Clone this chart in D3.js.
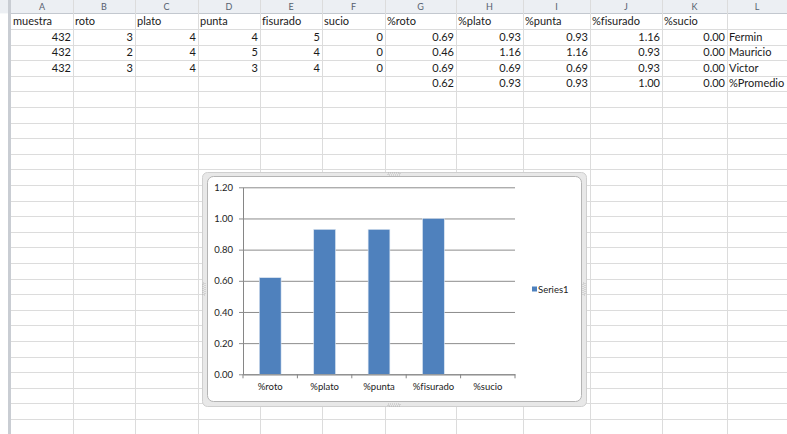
<!DOCTYPE html>
<meta charset="utf-8">
<script src="https://d3js.org/d3.v7.min.js"></script>
<style>
  body { margin: 0; background: #fff; }
  text {
    font-family: Lato, "Open Sans", sans-serif;
    font-variant-ligatures: none;
    font-feature-settings: "liga" 0, "clig" 0, "dlig" 0;
  }
</style>
<div id="sheet"></div>
<script>

// spreadsheet content
var columnLetters = ["A", "B", "C", "D", "E", "F", "G", "H", "I", "J", "K", "L"];
var headerRow = ["muestra", "roto", "plato", "punta", "fisurado", "sucio",
                 "%roto", "%plato", "%punta", "%fisurado", "%sucio", ""];
var rowFermin   = ["432", "3", "4", "4", "5", "0", "0.69", "0.93", "0.93", "1.16", "0.00", "Fermin"];
var rowMauricio = ["432", "2", "4", "5", "4", "0", "0.46", "1.16", "1.16", "0.93", "0.00", "Mauricio"];
var rowVictor   = ["432", "3", "4", "3", "4", "0", "0.69", "0.69", "0.69", "0.93", "0.00", "Victor"];
var rowPromedio = ["", "", "", "", "", "", "0.62", "0.93", "0.93", "1.00", "0.00", "%Promedio"];

// chart content
var categories = ["%roto", "%plato", "%punta", "%fisurado", "%sucio"];
var values = [0.62, 0.93, 0.93, 1.00, 0.00];
var yTicks = [0, 0.2, 0.4, 0.6, 0.8, 1.0, 1.2];
var seriesName = "Series1";

var W = 787, H = 434;
var svg = d3.select("#sheet").append("svg")
    .attr("width", W)
    .attr("height", H);

// ---- grid of the sheet ----
var colEdges = [11, 73, 135, 198, 260, 322, 385, 456, 523, 590, 662, 727, 787];
var headerH = 13.4, rowH = 15.6;

svg.append("rect")
    .attr("x", 0).attr("y", 0).attr("width", W).attr("height", headerH)
    .attr("fill", "#eceff3");

// horizontal row lines
var rowLines = d3.range(0, 28).map(function(k) { return headerH + rowH * k; });
svg.selectAll("line.row")
  .data(rowLines)
  .enter().append("line")
    .attr("x1", 8).attr("x2", W)
    .attr("y1", function(d) { return Math.round(d) + 0.5; })
    .attr("y2", function(d) { return Math.round(d) + 0.5; })
    .attr("stroke", function(d, i) { return i == 0 ? "#c3c8cf" : "#dcdcdc"; });

// vertical column lines
svg.selectAll("line.col")
  .data(colEdges.slice(1, -1))
  .enter().append("line")
    .attr("x1", function(d) { return d + 0.5; })
    .attr("x2", function(d) { return d + 0.5; })
    .attr("y1", 0).attr("y2", H)
    .attr("stroke", "#dcdcdc");

// row header edge
svg.append("rect")
    .attr("x", 8).attr("y", 0).attr("width", 3).attr("height", H)
    .attr("fill", "#c9cdd3");

// column letters
svg.selectAll("text.letter")
  .data(columnLetters)
  .enter().append("text")
    .attr("x", function(d, i) { return (colEdges[i] + colEdges[i + 1]) / 2; })
    .attr("y", 10)
    .attr("text-anchor", "middle")
    .attr("font-size", 9)
    .attr("fill", "#55606e")
    .text(function(d) { return d; });

// cells
var tableRows = [headerRow, rowFermin, rowMauricio, rowVictor, rowPromedio];
tableRows.forEach(function(row, r) {
  var baseline = headerH + rowH * r + 11.5;
  svg.selectAll(null)
    .data(row)
    .enter().append("text")
      .attr("x", function(d, i) {
        var numeric = r > 0 && i < 11;
        return numeric ? colEdges[i + 1] - 2 : colEdges[i] + 2;
      })
      .attr("y", baseline)
      .attr("text-anchor", function(d, i) { return (r > 0 && i < 11) ? "end" : "start"; })
      .attr("font-size", 11)
      .attr("fill", "#1a1a1a")
      .text(function(d) { return d; });
});

// ---- chart object ----
var frame = {x: 202, y: 172, w: 384, h: 234};
svg.append("rect")
    .attr("x", frame.x + 0.5).attr("y", frame.y + 0.5)
    .attr("width", frame.w).attr("height", frame.h)
    .attr("rx", 5)
    .attr("fill", "#e8e8e8")
    .attr("stroke", "#cfcfcf");
svg.append("rect")
    .attr("x", frame.x + 5.5).attr("y", frame.y + 4.5)
    .attr("width", frame.w - 10).attr("height", frame.h - 9)
    .attr("rx", 6)
    .attr("fill", "#fff")
    .attr("stroke", "#b4b4b4");

// resize handles
var handles = [
  [frame.x + frame.w / 2 - 6, frame.y + 1, 12, 2],
  [frame.x + frame.w / 2 - 6, frame.y + frame.h - 2, 12, 2],
  [frame.x + 1, frame.y + frame.h / 2 - 6, 2, 12],
  [frame.x + frame.w - 3, frame.y + frame.h / 2 - 6, 2, 12]
];
svg.selectAll("rect.handle")
  .data(handles)
  .enter().append("rect")
    .attr("x", function(d) { return d[0]; })
    .attr("y", function(d) { return d[1]; })
    .attr("width", function(d) { return d[2]; })
    .attr("height", function(d) { return d[3]; })
    .attr("fill", "none")
    .attr("stroke", "#a0a0a0")
    .attr("stroke-width", 0.6)
    .attr("stroke-dasharray", "1,1");

// plot area
var plot = {left: 243, right: 515, top: 187.3, bottom: 374.3};

var x = d3.scaleBand()
    .domain(categories)
    .range([plot.left, plot.right])
    .paddingInner(0)
    .paddingOuter(0);

var y = d3.scaleLinear()
    .domain([0, 1.2])
    .range([plot.bottom, plot.top]);

// gridlines + y axis
var yAxis = svg.append("g")
    .attr("transform", "translate(" + plot.left + ",0)")
    .call(d3.axisLeft(y)
      .tickValues(yTicks)
      .tickFormat(d3.format(".2f"))
      .tickSizeInner(-(plot.right - plot.left))
      .tickSizeOuter(0)
      .tickPadding(10));
yAxis.select(".domain").attr("stroke", "#868686");
yAxis.selectAll(".tick line")
    .attr("stroke", "#8c8c8c");
yAxis.selectAll(".tick").append("line")
    .attr("x1", -4).attr("x2", 0)
    .attr("stroke", "#8c8c8c");
yAxis.selectAll(".tick text")
    .attr("font-size", 9.5)
    .attr("fill", "#222")
    .attr("font-family", "Lato, sans-serif");

// bars (gap width 150%)
var barW = x.bandwidth() / 2.5;
svg.selectAll("rect.bar")
  .data(values)
  .enter().append("rect")
    .attr("x", function(d, i) { return x(categories[i]) + (x.bandwidth() - barW) / 2; })
    .attr("y", function(d) { return y(d); })
    .attr("width", barW)
    .attr("height", function(d) { return y(0) - y(d); })
    .attr("fill", "#4f81bd")
    .attr("stroke", "#dbe5f1")
    .attr("stroke-width", 0.6);

// x axis
var xAxis = svg.append("g")
    .attr("transform", "translate(0," + plot.bottom + ")")
    .call(d3.axisBottom(x).tickSize(0).tickPadding(9));
xAxis.select(".domain").attr("stroke", "#868686");
xAxis.selectAll(".tick text")
    .attr("font-size", 9.5)
    .attr("fill", "#222")
    .attr("font-family", "Lato, sans-serif");
var bounds = categories.map(function(c) { return x(c); }).concat([plot.right]);
xAxis.selectAll("line.bnd")
  .data(bounds)
  .enter().append("line")
    .attr("x1", function(d) { return d; })
    .attr("x2", function(d) { return d; })
    .attr("y1", 0).attr("y2", 4)
    .attr("stroke", "#868686");

// legend
svg.append("rect")
    .attr("x", 532).attr("y", 286.5)
    .attr("width", 5).attr("height", 5)
    .attr("fill", "#4f81bd");
svg.append("text")
    .attr("x", 538).attr("y", 292.5)
    .attr("font-size", 9.5)
    .attr("fill", "#222")
    .text(seriesName);

</script>
